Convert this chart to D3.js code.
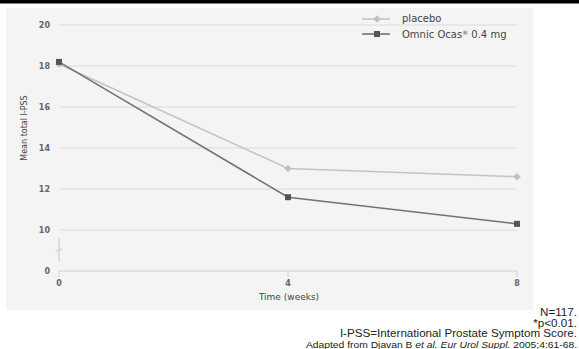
<!DOCTYPE html>
<html>
<head>
<meta charset="utf-8">
<script src="https://cdn.jsdelivr.net/npm/d3@7"></script>
<style>
  html, body { margin: 0; padding: 0; background: #fff; }
  svg { display: block; }
</style>
</head>
<body>
<svg id="chart" width="579" height="349"></svg>
<script>
// Mean total I-PSS over time, by treatment group
const weeks = [0, 4, 8];
const placebo = [18.1, 13.0, 12.6];
const omnic = [18.2, 11.6, 10.3];
const seriesNames = ["placebo", "Omnic Ocas® 0.4 mg"];
const yTicks = [0, 10, 12, 14, 16, 18, 20];
const xTicks = [0, 4, 8];
const footnotes = [
  "N=117.",
  "*p<0.01.",
  "I-PSS=International Prostate Symptom Score."
];

const svg = d3.select("#chart");
const chartFont = "'DejaVu Sans', Lato, sans-serif";

// thin black rule across the top
svg.append("rect").attr("x", 0).attr("y", 0).attr("width", 579).attr("height", 3.5).attr("fill", "#000");

// light panel behind the plot
svg.append("rect").attr("x", 6).attr("y", 8).attr("width", 527).attr("height", 302).attr("fill", "#f4f4f4");

// broken y axis: 0 sits just below 10
const y = d3.scaleLinear().domain([0, 10, 20]).range([271, 230, 25]);
const x = d3.scaleLinear().domain([0, 8]).range([59, 517]);

// horizontal gridlines
svg.append("g").selectAll("line").data(yTicks).join("line")
  .attr("x1", x(0)).attr("x2", x(8))
  .attr("y1", d => y(d)).attr("y2", d => y(d))
  .attr("stroke", d => d === 0 ? "#dcdcdc" : "#e5e5e5")
  .attr("stroke-width", 1.5);

// y tick labels
svg.append("g").selectAll("text").data(yTicks).join("text")
  .attr("x", 50).attr("y", d => y(d) + 3)
  .attr("text-anchor", "end")
  .attr("font-family", chartFont).attr("font-size", 8).attr("font-weight", "bold")
  .attr("fill", "#666")
  .text(d => d);

// axis break marker between 0 and 10
const bx = x(0);
svg.append("line").attr("x1", bx).attr("x2", bx).attr("y1", 238).attr("y2", 262)
  .attr("stroke", "#cfcfcf").attr("stroke-width", 1.2);
svg.append("line").attr("x1", bx - 3.5).attr("x2", bx + 3.5).attr("y1", 251).attr("y2", 249)
  .attr("stroke", "#cfcfcf").attr("stroke-width", 1.2);

// x ticks below the baseline
svg.append("g").selectAll("line").data(xTicks).join("line")
  .attr("x1", d => x(d)).attr("x2", d => x(d))
  .attr("y1", y(0)).attr("y2", y(0) + 6)
  .attr("stroke", "#d6d6d6").attr("stroke-width", 1.2);

svg.append("g").selectAll("text").data(xTicks).join("text")
  .attr("x", d => x(d)).attr("y", 286)
  .attr("text-anchor", "middle")
  .attr("font-family", chartFont).attr("font-size", 8).attr("font-weight", "bold")
  .attr("fill", "#666")
  .text(d => d);

// axis titles
svg.append("text")
  .attr("x", 289).attr("y", 300)
  .attr("text-anchor", "middle")
  .attr("font-family", chartFont).attr("font-size", 9)
  .attr("fill", "#444")
  .text("Time (weeks)");

svg.append("text")
  .attr("transform", "translate(27,128) rotate(-90)")
  .attr("text-anchor", "middle")
  .attr("font-family", chartFont).attr("font-size", 8)
  .attr("fill", "#444")
  .text("Mean total I-PSS");

// series lines and markers
const line = d3.line().x((d, i) => x(weeks[i])).y(d => y(d));
const styles = [
  { data: placebo, stroke: "#c4c4c4", fill: "#c0c0c0", symbol: d3.symbolDiamond2, size: 36 },
  { data: omnic, stroke: "#737373", fill: "#555", symbol: d3.symbolSquare, size: 36 }
];

styles.forEach(s => {
  svg.append("path").attr("d", line(s.data))
    .attr("fill", "none").attr("stroke", s.stroke).attr("stroke-width", 1.6);
  svg.append("g").selectAll("path").data(s.data).join("path")
    .attr("transform", (d, i) => `translate(${x(weeks[i])},${y(d)})`)
    .attr("d", d3.symbol().type(s.symbol).size(s.size))
    .attr("fill", s.fill);
});

// legend
const legend = svg.append("g");
styles.forEach((s, i) => {
  const ly = 19 + i * 15;
  legend.append("line").attr("x1", 362).attr("x2", 390).attr("y1", ly).attr("y2", ly)
    .attr("stroke", s.stroke).attr("stroke-width", 1.6);
  legend.append("path").attr("transform", `translate(377,${ly})`)
    .attr("d", d3.symbol().type(s.symbol).size(s.size)).attr("fill", s.fill);
});
legend.append("text").attr("x", 402).attr("y", 22)
  .attr("font-family", chartFont).attr("font-size", 10).attr("fill", "#444")
  .text(seriesNames[0]);
const omnicLabel = legend.append("text").attr("x", 402).attr("y", 37.5)
  .attr("font-family", chartFont).attr("font-size", 10).attr("fill", "#444");
omnicLabel.append("tspan").text("Omnic Ocas");
omnicLabel.append("tspan").attr("font-size", 6).attr("dy", -3).text("®");
omnicLabel.append("tspan").attr("dy", 3).text(" 0.4 mg");

// footnotes, right aligned, slightly widened
const noteFont = "'Liberation Sans', Arial, sans-serif";
const notes = svg.append("g")
  .attr("transform", "translate(577,0) scale(1.11,1)")
  .attr("font-family", noteFont).attr("font-size", 10.5)
  .attr("fill", "#222").attr("text-anchor", "end");
const noteY = [315.8, 326.6, 337.4, 348.3];
footnotes.forEach((t, i) => {
  notes.append("text").attr("x", 0).attr("y", noteY[i]).text(t);
});
const ref = notes.append("text").attr("x", 0).attr("y", noteY[3]).attr("font-size", 9.3);
ref.append("tspan").text("Adapted from Djavan B ");
ref.append("tspan").attr("font-style", "italic").text("et al. Eur Urol Suppl.");
ref.append("tspan").text(" 2005;4:61-68.");
</script>
</body>
</html>
